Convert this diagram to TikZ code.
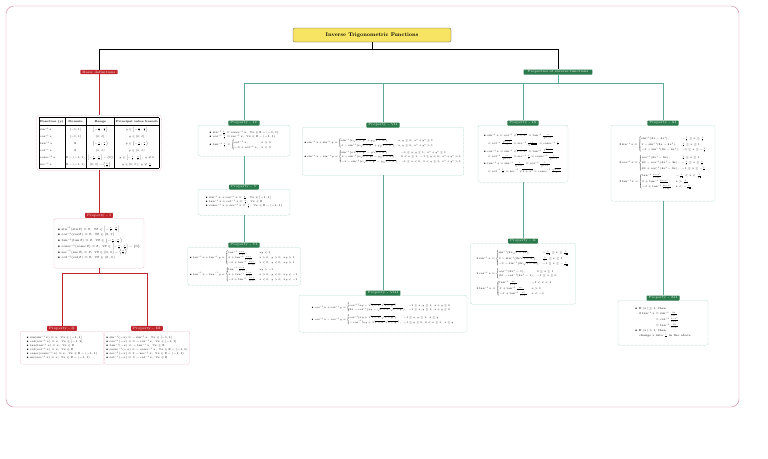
\RequirePackage{fix-cm}
\documentclass[tikz,border=0pt]{standalone}
\usepackage{amsmath,amssymb}
\usetikzlibrary{calc}
\definecolor{framepink}{HTML}{D9839A}
\definecolor{tagred}{HTML}{C0272D}
\definecolor{taggreen}{HTML}{2B7A4B}
\definecolor{lineteal}{HTML}{5BA896}
\definecolor{boxteal}{HTML}{8CC7B6}
\definecolor{boxpink}{HTML}{E596A6}
\definecolor{titleyellow}{HTML}{F7E463}
\def\fs{\fontsize{4.6}{6.8}\selectfont}
\def\fss{\fontsize{4}{5.8}\selectfont}
\def\ai#1{#1^{-1}}
\def\cosec{\operatorname{cosec}}
\def\R{\mathbb{R}}

\begin{document}
\begin{tikzpicture}[x=1.5pt,y=-1.5pt,
		redline/.style={draw=tagred, line width=0.7pt},
		grnline/.style={draw=lineteal, line width=0.7pt},
		redtag/.style={fill=tagred, text=white, rounded corners=1pt, inner xsep=3pt, inner ysep=1.5pt, font=\fontsize{5}{6}\selectfont},
		grntag/.style={fill=taggreen, text=white, rounded corners=1pt, inner xsep=3pt, inner ysep=1.5pt, font=\fontsize{5}{6}\selectfont},
		redbox/.style={draw=boxpink, dash pattern=on 1pt off 1pt, rounded corners=3pt, fill=white, align=left, inner sep=3pt, font=\fs},
		grnbox/.style={draw=boxteal, dash pattern=on 1pt off 1pt, rounded corners=3pt, fill=white, align=left, inner sep=3pt, font=\fs}]
			%%%%% START %%%%%
			
			\useasboundingbox (0, 0) rectangle (768, 459);
			\draw[framepink, line width=0.6pt, rounded corners=12pt] (6, 6) rectangle (739, 407);
			
			\node[fill=titleyellow, draw=black!70, rounded corners=2pt, minimum width=237pt, minimum height=21pt, font=\fontsize{8}{9}\selectfont\bfseries] (title) at (372, 35) {Inverse Trigonometric Functions};
			\node[redtag] (basic) at (99, 72) {Basic definitions};
			\node[grntag, inner xsep=6pt] (props) at (558, 72) {Properties of inverse functions};
			
			\coordinate (tj) at (372, 49);
			\draw[line width=0.7pt] (title) -- (tj) -| (basic);
			\draw[line width=0.7pt] (tj) -| (props);
			
			%% basic definitions side
			\node[redbox, anchor=north, inner sep=3pt, font=\fontsize{4.2}{5.2}\selectfont] (deftable) at (99, 115) {%
				\setlength\arrayrulewidth{0.7pt}\setlength\tabcolsep{2pt}\renewcommand\arraystretch{2.05}%
				\begin{tabular}{|l|c|c|c|}\hline
					\textbf{Function (y)} & \textbf{Domain} & \textbf{Range} & \textbf{Principal value branch}\\\hline
					$\ai\sin x$ & $[-1,1]$ & $\left[-\frac{\pi}{2},\frac{\pi}{2}\right]$ & $y\in\left[-\frac{\pi}{2},\frac{\pi}{2}\right]$\\
					$\ai\cos x$ & $[-1,1]$ & $[0,\pi]$ & $y\in[0,\pi]$\\
					$\ai\tan x$ & $\R$ & $\left(-\frac{\pi}{2},\frac{\pi}{2}\right)$ & $y\in\left(-\frac{\pi}{2},\frac{\pi}{2}\right)$\\
					$\ai\cot x$ & $\R$ & $(0,\pi)$ & $y\in(0,\pi)$\\
					$\ai\cosec x$ & $\R-(-1,1)$ & $\left[-\frac{\pi}{2},\frac{\pi}{2}\right]-\{0\}$ & $y\in\left[-\frac{\pi}{2},\frac{\pi}{2}\right],\ y\neq0$\\
					$\ai\sec x$ & $\R-(-1,1)$ & $[0,\pi]-\left\{\frac{\pi}{2}\right\}$ & $y\in[0,\pi],\ y\neq\frac{\pi}{2}$\\\hline
				\end{tabular}};
			
			\node[redbox, anchor=north, minimum width=135pt, minimum height=75pt, font=\fontsize{4.6}{8.6}\selectfont] (pI) at (99, 218) {%
				$\bullet$ $\ai\sin(\sin\theta)=\theta,\ \forall\theta\in\left[-\frac{\pi}{2},\frac{\pi}{2}\right]$\\
				$\bullet$ $\ai\cos(\cos\theta)=\theta,\ \forall\theta\in[0,\pi]$\\
				$\bullet$ $\ai\tan(\tan\theta)=\theta,\ \forall\theta\in\left(-\frac{\pi}{2},\frac{\pi}{2}\right)$\\
				$\bullet$ $\ai\cosec(\cosec\theta)=\theta,\ \forall\theta\in\left[-\frac{\pi}{2},\frac{\pi}{2}\right]-\{0\}$\\
				$\bullet$ $\ai\sec(\sec\theta)=\theta,\ \forall\theta\in[0,\pi]-\left\{\frac{\pi}{2}\right\}$\\
				$\bullet$ $\ai\cot(\cot\theta)=\theta,\ \forall\theta\in(0,\pi)$};
			
			\node[redbox, anchor=north, minimum width=124.5pt, minimum height=49.5pt, font=\fontsize{4.3}{6}\selectfont] (pII) at (62, 331) {%
				$\bullet$ $\sin(\ai\sin x)=x,\ \forall x\in[-1,1]$\\
				$\bullet$ $\cos(\ai\cos x)=x,\ \forall x\in[-1,1]$\\
				$\bullet$ $\tan(\ai\tan x)=x,\ \forall x\in\R$\\
				$\bullet$ $\cot(\ai\cot x)=x,\ \forall x\in\R$\\
				$\bullet$ $\cosec(\ai\cosec x)=x,\ \forall x\in\R-(-1,1)$\\
				$\bullet$ $\sec(\ai\sec x)=x,\ \forall x\in\R-(-1,1)$};
			
			\node[redbox, anchor=north, minimum width=121.5pt, minimum height=49.5pt, font=\fontsize{4.3}{6}\selectfont] (pIII) at (147, 331) {%
				$\bullet$ $\ai\sin(-x)=-\ai\sin x,\ \forall x\in[-1,1]$\\
				$\bullet$ $\ai\cos(-x)=\pi-\ai\cos x,\ \forall x\in[-1,1]$\\
				$\bullet$ $\ai\tan(-x)=-\ai\tan x,\ \forall x\in\R$\\
				$\bullet$ $\ai\cosec(-x)=-\ai\cosec x,\ \forall x\in\R-(-1,1)$\\
				$\bullet$ $\ai\sec(-x)=\pi-\ai\sec x,\ \forall x\in\R-(-1,1)$\\
				$\bullet$ $\ai\cot(-x)=\pi-\ai\cot x,\ \forall x\in\R$};
			
			\foreach \n in {I,II,III}
				\node[redtag, anchor=south] (lb\n) at (p\n.north) {Property - \n};
			
			\draw[redline] (basic) -- (deftable);
			\draw[redline] (deftable) -- (lbI);
			\coordinate (rj) at (99, 273);
			\draw[redline] (pI) -- (rj) -| (lbII);
			\draw[redline] (rj) -| (lbIII);
			
			%% properties side
			\node[grnbox, anchor=north, minimum width=138pt, minimum height=46.5pt, font=\fontsize{4.3}{6.4}\selectfont] (pIV) at (244, 125) {%
				$\bullet$ $\ai\sin\frac{1}{x}=\ai\cosec x,\ \forall x\in\R-(-1,1)$\\
				$\bullet$ $\ai\cos\frac{1}{x}=\ai\sec x,\ \forall x\in\R-(-1,1)$\\
				$\bullet$ $\ai\tan\frac{1}{x}=\begin{cases}\ai\cot x, & x>0\\ -\pi+\ai\cot x, & x<0\end{cases}$};
			
			\node[grnbox, anchor=north, minimum width=138pt, minimum height=39pt, font=\fontsize{4.3}{6.4}\selectfont] (pV) at (244, 189) {%
				$\bullet$ $\ai\sin x+\ai\cos x=\frac{\pi}{2},\ \forall x\in[-1,1]$\\
				$\bullet$ $\ai\tan x+\ai\cot x=\frac{\pi}{2},\ \forall x\in\R$\\
				$\bullet$ $\ai\cosec x+\ai\sec x=\frac{\pi}{2},\ \forall x\in\R-(-1,1)$};
			
			\node[grnbox, anchor=north, minimum width=157.5pt, minimum height=57pt, font=\fss] (pVI) at (244, 247) {%
				$\bullet$ $\ai\tan x+\ai\tan y=\begin{cases}\ai\tan\frac{x+y}{1-xy}, & xy<1\\ \pi+\ai\tan\frac{x+y}{1-xy}, & x>0,\ y>0,\ xy>1\\ -\pi+\ai\tan\frac{x+y}{1-xy}, & x<0,\ y<0,\ xy>1\end{cases}$\\[1pt]
				$\bullet$ $\ai\tan x-\ai\tan y=\begin{cases}\ai\tan\frac{x-y}{1+xy}, & xy>-1\\ \pi+\ai\tan\frac{x-y}{1+xy}, & x>0,\ y<0,\ xy<-1\\ -\pi+\ai\tan\frac{x-y}{1+xy}, & x<0,\ y>0,\ xy<-1\end{cases}$};
			
			\node[grnbox, anchor=north, minimum width=232.5pt, minimum height=72pt, font=\fss] (pVII) at (383, 127) {%
				$\bullet$ $\ai\sin x+\ai\sin y=\begin{cases}\ai\sin\bigl(x\sqrt{1-y^2}+y\sqrt{1-x^2}\bigr), & x,y\ge0,\ x^2+y^2\le1\\ \pi-\ai\sin\bigl(x\sqrt{1-y^2}+y\sqrt{1-x^2}\bigr), & x,y\ge0,\ x^2+y^2>1\end{cases}$\\[2pt]
				$\bullet$ $\ai\sin x-\ai\sin y=\begin{cases}\ai\sin\bigl(x\sqrt{1-y^2}-y\sqrt{1-x^2}\bigr), & -1\le x,y\le1,\ x^2+y^2\le1\\ \pi-\ai\sin\bigl(x\sqrt{1-y^2}-y\sqrt{1-x^2}\bigr), & 0<x\le1,\ -1\le y<0,\ x^2+y^2>1\\ -\pi-\ai\sin\bigl(x\sqrt{1-y^2}-y\sqrt{1-x^2}\bigr), & -1\le x<0,\ 0<y\le1,\ x^2+y^2>1\end{cases}$};
			
			\node[grnbox, anchor=north, minimum width=252pt, minimum height=55.5pt, font=\fss] (pVIII) at (383, 295) {%
				$\bullet$ $\ai\cos x+\ai\cos y=\begin{cases}\ai\cos\bigl(xy-\sqrt{1-x^2}\sqrt{1-y^2}\bigr), & -1\le x,y\le1,\ x+y\ge0\\ 2\pi-\ai\cos\bigl(xy-\sqrt{1-x^2}\sqrt{1-y^2}\bigr), & -1\le x,y\le1,\ x+y\le0\end{cases}$\\[3pt]
				$\bullet$ $\ai\cos x-\ai\cos y=\begin{cases}\ai\cos\bigl(xy+\sqrt{1-x^2}\sqrt{1-y^2}\bigr), & -1\le x,y\le1,\ x\le y\\ -\ai\cos\bigl(xy+\sqrt{1-x^2}\sqrt{1-y^2}\bigr), & -1\le y\le0,\ 0<x\le1,\ x\ge y\end{cases}$};
			
			\node[grnbox, anchor=north, minimum width=135pt, minimum height=85.5pt, font=\fontsize{4.2}{6.6}\selectfont] (pIX) at (523, 125) {%
				$\bullet$ $\ai\sin x=\ai\cos\sqrt{1-x^2}=\ai\tan\frac{x}{\sqrt{1-x^2}}$\\[1pt]
				\hspace{6pt}$=\ai\cot\frac{\sqrt{1-x^2}}{x}=\ai\sec\frac{1}{\sqrt{1-x^2}}=\ai\cosec\frac{1}{x}$\\[2pt]
				$\bullet$ $\ai\cos x=\ai\sin\sqrt{1-x^2}=\ai\tan\frac{\sqrt{1-x^2}}{x}$\\[1pt]
				\hspace{6pt}$=\ai\cot\frac{x}{\sqrt{1-x^2}}=\ai\sec\frac{1}{x}=\ai\cosec\frac{1}{\sqrt{1-x^2}}$\\[2pt]
				$\bullet$ $\ai\tan x=\ai\sin\frac{x}{\sqrt{1+x^2}}=\ai\cos\frac{1}{\sqrt{1+x^2}}$\\[1pt]
				\hspace{6pt}$=\ai\cot\frac{1}{x}=\ai\sec\sqrt{1+x^2}=\ai\cosec\frac{\sqrt{1+x^2}}{x}$};
			
			\node[grnbox, anchor=north, minimum width=157.5pt, minimum height=91.5pt, font=\fontsize{4.2}{6}\selectfont] (pX) at (523, 243) {%
				$2\ai\sin x=\begin{cases}\ai\sin\bigl(2x\sqrt{1-x^2}\bigr), & -\frac{1}{\sqrt2}\le x\le\frac{1}{\sqrt2}\\[1pt] \pi-\ai\sin\bigl(2x\sqrt{1-x^2}\bigr), & \frac{1}{\sqrt2}\le x\le1\\[1pt] -\pi-\ai\sin\bigl(2x\sqrt{1-x^2}\bigr), & -1\le x\le-\frac{1}{\sqrt2}\end{cases}$\\[2pt]
				$2\ai\cos x=\begin{cases}\ai\cos(2x^2-1), & 0\le x\le1\\ 2\pi-\ai\cos(2x^2-1), & -1\le x\le0\end{cases}$\\[2pt]
				$2\ai\tan x=\begin{cases}\ai\tan\frac{2x}{1-x^2}, & -1<x<1\\[1pt] \pi+\ai\tan\frac{2x}{1-x^2}, & x>1\\[1pt] -\pi+\ai\tan\frac{2x}{1-x^2}, & x<-1\end{cases}$};
			
			\node[grnbox, anchor=north, minimum width=156pt, minimum height=114pt, font=\fontsize{4.2}{6}\selectfont] (pXI) at (663, 125) {%
				$3\ai\sin x=\begin{cases}\ai\sin(3x-4x^3), & -\frac{1}{2}\le x\le\frac{1}{2}\\[1pt] \pi-\ai\sin(3x-4x^3), & \frac{1}{2}\le x\le1\\[1pt] -\pi-\ai\sin(3x-4x^3), & -1\le x\le-\frac{1}{2}\end{cases}$\\[3pt]
				$3\ai\cos x=\begin{cases}\ai\cos(4x^3-3x), & \frac{1}{2}\le x\le1\\[1pt] 2\pi-\ai\cos(4x^3-3x), & -\frac{1}{2}\le x\le\frac{1}{2}\\[1pt] 2\pi+\ai\cos(4x^3-3x), & -1\le x\le-\frac{1}{2}\end{cases}$\\[3pt]
				$3\ai\tan x=\begin{cases}\ai\tan\frac{3x-x^3}{1-3x^2}, & -\frac{1}{\sqrt3}<x<\frac{1}{\sqrt3}\\[1pt] \pi+\ai\tan\frac{3x-x^3}{1-3x^2}, & x>\frac{1}{\sqrt3}\\[1pt] -\pi+\ai\tan\frac{3x-x^3}{1-3x^2}, & x<-\frac{1}{\sqrt3}\end{cases}$};
			
			\node[grnbox, anchor=north, minimum width=135pt, minimum height=67.5pt, font=\fontsize{4.4}{6.4}\selectfont] (pXII) at (663, 300) {%
				$\bullet$ If $|x|\le1$, then\\[1pt]
				\hspace{6pt}$2\ai\tan x=\ai\sin\frac{2x}{1+x^2}$\\[1pt]
				\hspace{6pt}$\phantom{2\ai\tan x}=\ai\cos\frac{1-x^2}{1+x^2}$\\[1pt]
				\hspace{6pt}$\phantom{2\ai\tan x}=\ai\tan\frac{2x}{1-x^2}$\\[1pt]
				$\bullet$ If $|x|>1$, then\\[1pt]
				\hspace{6pt}change $x$ into $\frac{1}{x}$ in the above};
			
			\foreach \n in {IV,V,VI,VII,VIII,IX,X,XI,XII}
				\node[grntag, anchor=south] (lb\n) at ([yshift=-1pt]p\n.north) {Property - \n};
			
			\coordinate (gj) at (558, 83);
			\draw[grnline] (props) -- (gj);
			\foreach \n in {IV,VII,IX,XI}
				\draw[grnline] (gj) -| (lb\n);
			\foreach \a/\b in {IV/V,V/VI,VII/VIII,IX/X,XI/XII}
				\draw[grnline] (p\a) -- (lb\b);
			
			%%%%% END %%%%%
		\end{tikzpicture}
\end{document}
